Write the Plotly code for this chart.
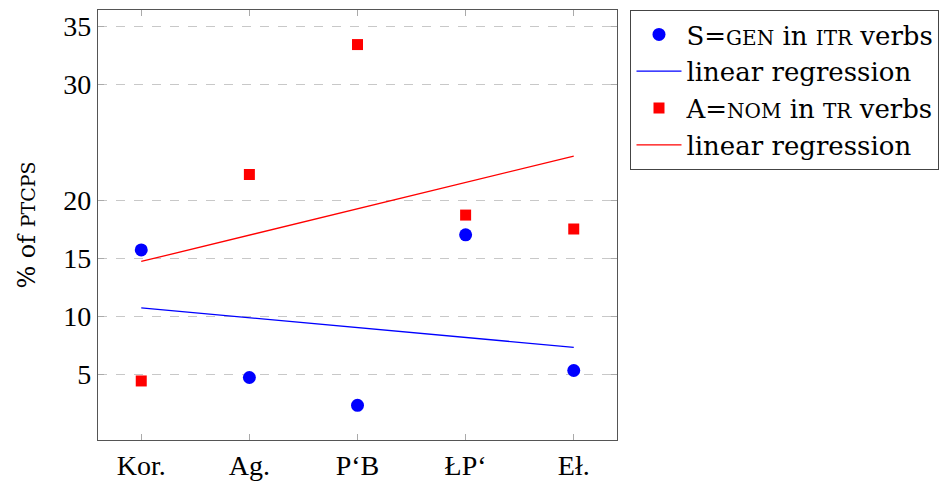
import numpy as np
import plotly.graph_objects as go

categories = ["Kor.", "Ag.", "P‘B", "ŁP‘", "Eł."]
x_pos = [1, 2, 3, 4, 5]
s_gen_itr = [15.7, 4.7, 2.3, 17.0, 5.3]
a_nom_tr = [4.4, 22.2, 33.4, 18.7, 17.5]
y_ticks = [5, 10, 15, 20, 30, 35]

def sc(t, size=19):
    return '<span style="font-size:%dpx">%s</span>' % (size, t)

def regress(y):
    m, b = np.polyfit(x_pos, y, 1)
    return [m * xi + b for xi in x_pos]

TICKFONT = "Liberation Serif, Times New Roman, serif"
TEXTFONT = "DejaVu Serif, serif"
fig = go.Figure()
fig.add_trace(go.Scatter(x=x_pos, y=s_gen_itr, mode="markers",
                         marker=dict(symbol="circle", size=13, color="#0000ff"),
                         name="S=" + sc("GEN", 20) + " in " + sc("ITR", 20) + " verbs"))
fig.add_trace(go.Scatter(x=x_pos, y=regress(s_gen_itr), mode="lines",
                         line=dict(color="#0000ff", width=1.3), name="linear regression"))
fig.add_trace(go.Scatter(x=x_pos, y=a_nom_tr, mode="markers",
                         marker=dict(symbol="square", size=11, color="#ff0000"),
                         name="A=" + sc("NOM", 20) + " in " + sc("TR", 20) + " verbs"))
fig.add_trace(go.Scatter(x=x_pos, y=regress(a_nom_tr), mode="lines",
                         line=dict(color="#ff0000", width=1.3), name="linear regression"))

fig.update_layout(
    width=946, height=482,
    margin=dict(l=98, r=329, t=10, b=42, autoexpand=False),
    plot_bgcolor="white", paper_bgcolor="white",
    font=dict(family=TEXTFONT, size=26, color="black"),
    showlegend=True,
    legend=dict(x=1.026, y=1.0, xanchor="left", yanchor="top",
                bordercolor="#444", borderwidth=1, bgcolor="white",
                font=dict(size=26, family=TEXTFONT), tracegroupgap=0,
                itemwidth=45),
)
fig.update_xaxes(range=[0.6, 5.4], tickvals=x_pos, ticktext=categories, automargin=False,
                 showgrid=False, zeroline=False, showline=True, linecolor="#555",
                 linewidth=1.2, mirror="ticks", ticks="inside", ticklen=6,
                 tickcolor="#aaa", tickwidth=1.2, tickfont=dict(size=28, family=TICKFONT))
fig.update_yaxes(range=[-0.69, 36.38], tickvals=y_ticks, automargin=False,
                 showgrid=True, gridcolor="#c8c8c8", griddash="dash", gridwidth=1.2,
                 zeroline=False, showline=True, linecolor="#555", linewidth=1.2,
                 mirror="ticks", ticks="inside", ticklen=6, tickcolor="#aaa", tickwidth=1.2,
                 tickfont=dict(size=28, family=TICKFONT),
                 title=dict(text="% of " + sc("PTCPS"), font=dict(size=24, family=TEXTFONT), standoff=20))

fig.write_html("out.html", config={"displayModeBar": False},
               post_script="document.body.style.margin='0';document.body.style.overflow='hidden';")
